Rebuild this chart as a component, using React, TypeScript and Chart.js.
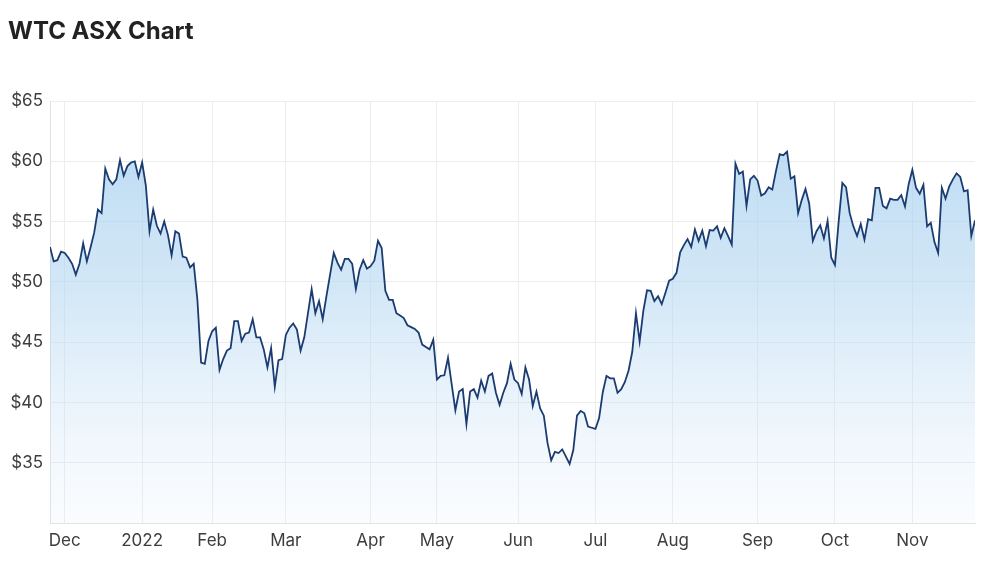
import { useEffect, useRef } from "react";
import { Chart, registerables } from "chart.js";

Chart.register(...registerables);

// Daily closing prices (AUD), one array per month of ASX trading days
const nov2021 = [52.9, 51.7, 51.8, 52.5];
const dec2021 = [52.4, 52.0, 51.5, 50.6, 51.5, 53.2, 51.7, 52.85, 54.1, 56.0, 55.7, 59.4, 58.5, 58.1, 58.5, 60.1, 58.8, 59.6, 59.9, 60.0, 58.7];
const jan2022 = [59.9, 58.0, 54.2, 56.0, 54.65, 54.0, 55.0, 53.9, 52.2, 54.2, 54.0, 52.1, 52.0, 51.2, 51.5, 48.5, 43.3, 43.2, 45.1];
const feb2022 = [45.9, 46.2, 42.7, 43.6, 44.3, 44.5, 46.75, 46.75, 45.1, 45.7, 45.8, 46.9, 45.4, 45.4, 44.4, 42.9, 44.5, 41.3, 43.5, 43.6];
const mar2022 = [45.6, 46.2, 46.55, 46.05, 44.3, 45.4, 47.4, 49.4, 47.4, 48.4, 46.9, 48.8, 50.6, 52.4, 51.6, 51.0, 51.9, 51.9, 51.5, 49.4, 51.0, 51.8, 51.1];
const apr2022 = [51.3, 51.75, 53.4, 52.8, 49.25, 48.5, 48.5, 47.4, 47.2, 47.0, 46.4, 46.25, 46.1, 45.8, 44.8, 44.6, 44.4, 45.2];
const may2022 = [41.9, 42.2, 42.25, 43.7, 41.5, 39.35, 40.9, 41.1, 38.2, 40.9, 41.1, 40.4, 41.8, 40.9, 42.2, 42.4, 40.8, 39.8, 40.8, 41.6, 43.2, 41.9];
const jun2022 = [41.6, 40.7, 42.9, 41.9, 39.7, 40.9, 39.5, 38.9, 36.65, 35.2, 35.9, 35.8, 36.1, 35.5, 34.9, 36.05, 38.9, 39.3, 39.1, 38.0, 37.9];
const jul2022 = [37.8, 38.7, 40.85, 42.2, 42.0, 42.0, 40.8, 41.1, 41.7, 42.65, 44.2, 47.4, 45.05, 47.6, 49.3, 49.25, 48.4, 48.8, 48.15, 49.1, 50.1];
const aug2022 = [50.25, 50.75, 52.45, 53.05, 53.55, 52.9, 54.35, 53.4, 54.25, 52.95, 54.3, 54.25, 54.6, 53.65, 54.45, 53.8, 53.1, 59.8, 58.95, 59.15, 56.3, 58.5, 58.8];
const sep2022 = [58.4, 57.15, 57.35, 57.85, 57.65, 59.2, 60.6, 60.5, 60.8, 58.55, 58.75, 55.7, 56.8, 57.7, 56.5, 53.4, 54.2, 54.7, 53.6, 55.05, 52.0];
const oct2022 = [51.4, 55.0, 58.2, 57.85, 55.7, 54.6, 53.8, 54.8, 53.5, 55.2, 55.1, 57.8, 57.8, 56.3, 56.1, 56.9, 56.8, 56.8, 57.2, 56.25, 58.1];
const nov2022 = [59.3, 57.8, 57.3, 58.05, 54.6, 54.9, 53.3, 52.4, 57.8, 56.9, 57.9, 58.5, 59.0, 58.7, 57.5, 57.6, 53.8, 55.1];

const monthSeries = [nov2021, dec2021, jan2022, feb2022, mar2022, apr2022, may2022, jun2022, jul2022, aug2022, sep2022, oct2022, nov2022];
// Tick label at the first trading day of each month (first block starts mid-month: no tick)
const monthTickLabels = [null, "Dec", "2022", "Feb", "Mar", "Apr", "May", "Jun", "Jul", "Aug", "Sep", "Oct", "Nov"];
const yTickValues = [35, 40, 45, 50, 55, 60, 65];
const yMin = 30;
const yMax = 65;

const FONT = "Inter, 'Noto Sans', Arial, sans-serif";

export default function App() {
  const canvasRef = useRef<HTMLCanvasElement | null>(null);

  useEffect(() => {
    const canvas = canvasRef.current;
    if (!canvas) return;

    const prices: number[] = [];
    const tickAt: Record<number, string> = {};
    monthSeries.forEach((m, k) => {
      const lbl = monthTickLabels[k];
      if (lbl) tickAt[prices.length] = lbl;
      prices.push(...m);
    });
    const tickIdx = Object.keys(tickAt).map(Number);
    const points = prices.map((y, i) => ({ x: i, y }));

    const chart = new Chart(canvas, {
      type: "line",
      data: {
        datasets: [
          {
            data: points,
            borderColor: "#1b3c70",
            borderWidth: 1.8,
            pointRadius: 0,
            tension: 0,
            fill: "start",
            backgroundColor: (ctx: any) => {
              const { chart: ch } = ctx;
              const area = ch.chartArea;
              if (!area) return "rgba(180,215,242,0.6)";
              const g = ch.ctx.createLinearGradient(0, area.top, 0, area.bottom);
              g.addColorStop(0, "rgba(160,204,238,0.75)");
              g.addColorStop(0.45, "rgba(175,212,240,0.55)");
              g.addColorStop(1, "rgba(215,232,249,0.12)");
              return g;
            },
          },
        ],
      },
      options: {
        responsive: false,
        animation: false,
        layout: { padding: { top: 101, right: 25, left: 0, bottom: 0 } },
        plugins: {
          legend: { display: false },
          tooltip: { enabled: false },
          title: { display: false },
        },
        scales: {
          x: {
            type: "linear",
            min: 0,
            max: prices.length - 1,
            bounds: "data",
            afterBuildTicks: (s: any) => {
              s.ticks = tickIdx.map((v) => ({ value: v }));
            },
            afterFit: (s: any) => {
              s.height = 46;
            },
            ticks: {
              autoSkip: false,
              maxRotation: 0,
              padding: 8,
              color: "#3d3d3d",
              font: { family: FONT, size: 17 },
              callback: (v: any) => tickAt[v as number] ?? null,
            },
            grid: { color: "#ededed", drawTicks: false },
            border: { color: "#e2e2e2" },
          },
          y: {
            min: yMin,
            max: yMax,
            afterBuildTicks: (s: any) => {
              s.ticks = yTickValues.map((v) => ({ value: v }));
            },
            afterFit: (s: any) => {
              s.width = 50;
            },
            ticks: {
              padding: 7,
              color: "#3d3d3d",
              font: { family: FONT, size: 17 },
              callback: (v: any) => "$" + v,
            },
            grid: { color: "#ededed", drawTicks: false },
            border: { color: "#e2e2e2" },
          },
        },
      } as any,
    });

    return () => chart.destroy();
  }, []);

  return (
    <div style={{ position: "absolute", left: 0, top: 0, width: 1000, height: 569, background: "#fff" }}>
      <canvas
        ref={canvasRef}
        width={1000}
        height={569}
        style={{ position: "absolute", left: 0, top: 0, display: "block" }}
      />
      <div
        style={{
          position: "absolute",
          left: 8,
          top: 16,
          fontFamily: FONT,
          fontWeight: 700,
          fontSize: 24,
          lineHeight: "30px",
          color: "#222",
          whiteSpace: "nowrap",
        }}
      >
        WTC ASX Chart
      </div>
    </div>
  );
}
